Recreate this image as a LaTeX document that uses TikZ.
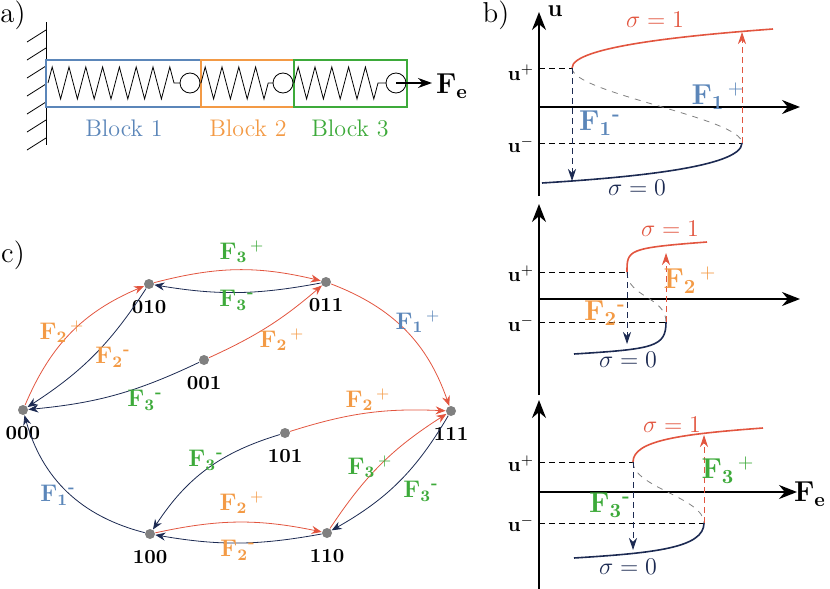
\documentclass[tikz,border=0pt]{standalone}
\usepackage{amsmath, amssymb}
\usepackage{xcolor}
\usetikzlibrary{arrows.meta,decorations.pathmorphing}
\definecolor{cred}{HTML}{E2553F}
\definecolor{cnavy}{HTML}{1C2A52}
\definecolor{corange}{HTML}{F39A45}
\definecolor{cgreen}{HTML}{3DAA3A}
\definecolor{cblue}{HTML}{5B86B9}
\newcommand{\Fl}[2]{$\mathbf{F}_{\mathbf{#1}}{}^{\,#2}$}
\newcommand{\Fm}[1]{$\mathbf{F}_{\mathbf{#1}}{}^{\textbf{-}}$}
% S-shaped hysteresis curve: xtop, xbot, yplus, yminus, xend, yend, xstart, ystart
\newcommand{\Scurve}[8]{%
  \draw[cred, thick] (#1,#3) .. controls (#1,#3-22) and (#5-80,#6+6) .. (#5,#6);
  \draw[gray, dashed] (#1,#3) .. controls (#1,#3+25) and (#2,#4-25) .. (#2,#4);
  \draw[cnavy, thick] (#2,#4) .. controls (#2,#4+25) and (#7+80,#8-5) .. (#7,#8);
}
\begin{document}
\begin{tikzpicture}[x=0.5pt,y=-0.5pt,
    axis/.style={thick, -{Stealth[length=9pt,width=7pt]}},
    guide/.style={densely dashed, thin},
    jump/.style={densely dashed, -{Stealth[length=6pt,width=4pt]}},
    state/.style={circle, fill=gray, minimum size=5pt, inner sep=0pt},
    trans/.style={-{Stealth[length=5pt,width=4pt]}},
    spring/.style={decorate, decoration={zigzag, segment length=8.4pt, amplitude=8pt}}]
    \useasboundingbox (0,0) rectangle (830,589);

    % a) springs
    \node (la) at (13,15) {\Large a)};
    \draw (46,22) -- (46,145);
    \foreach \y in {30,48,...,146} \draw (46,\y) -- (27,\y+12);
    \draw[cblue, thick] (46,60) rectangle (201,107);
    \draw[corange, thick] (201,60) rectangle (294,107);
    \draw[cgreen, thick] (294,60) rectangle (407,107);
    \draw[spring] (48,83) -- (180,83);
    \draw (190,83) circle (10);
    \draw[spring] (201,83) -- (273,83);
    \draw (283,83) circle (10);
    \draw[spring] (294,83) -- (386,83);
    \draw (396,83) circle (10);
    \draw[thick, -{Stealth[length=7pt,width=5pt]}] (396,83) -- (432,83);
    \node (fe1) at (452,86) {\Large$\mathbf{F}_{\mathbf{e}}$};
    \node[cblue] (b1) at (124,128) {\large Block 1};
    \node[corange] (b2) at (248,128) {\large Block 2};
    \node[cgreen] (b3) at (350,128) {\large Block 3};

    % b) top
    \node (lb) at (496,15) {\Large b)};
    \draw[axis] (539,196) -- (539,12);
    \node (u) at (555,11) {\large$\mathbf{u}$};
    \draw[axis] (539,107) -- (800,107);
    \draw[guide] (539,68) -- (572,68);
    \draw[guide] (539,143) -- (742,143);
    \Scurve{572}{742}{68}{143}{773}{29}{542}{183}
    \draw[jump, cnavy] (572,68) -- (572,181);
    \draw[jump, cred] (742,143) -- (742,32);
    \node (up1) at (521,73) {$\mathbf{u^+}$};
    \node (um1) at (521,145) {$\mathbf{u^-}$};
    \node[cred] (s11) at (655,20) {\large$\sigma = 1$};
    \node[cnavy] (s01) at (637,188) {\large$\sigma = 0$};
    \node[cblue] (f1p) at (718,96) {\Large\Fl{1}{+}};
    \node[cblue] (f1m) at (600,123) {\Large\Fm{1}};

    % b) middle
    \draw[axis] (539,395) -- (539,204);
    \draw[axis] (539,299) -- (800,299);
    \draw[guide] (539,272) -- (627,272);
    \draw[guide] (539,322) -- (666,322);
    \Scurve{627}{666}{272}{322}{707}{242}{574}{354}
    \draw[jump, cnavy] (627,272) -- (627,344);
    \draw[jump, cred] (666,322) -- (666,253);
    \node (up2) at (521,274) {$\mathbf{u^+}$};
    \node (um2) at (521,324) {$\mathbf{u^-}$};
    \node[cred] (s12) at (670,229) {\large$\sigma = 1$};
    \node[cnavy] (s02) at (628,360) {\large$\sigma = 0$};
    \node[corange] (f2p) at (690,280) {\Large\Fl{2}{+}};
    \node[corange] (f2m) at (605,313) {\Large\Fm{2}};

    % b) bottom
    \draw[axis] (539,589) -- (539,400);
    \draw[axis] (539,492) -- (797,492);
    \node (fe2) at (810,494) {\Large$\mathbf{F}_{\mathbf{e}}$};
    \draw[guide] (539,462) -- (633,462);
    \draw[guide] (539,523) -- (704,523);
    \Scurve{633}{704}{462}{523}{763}{428}{574}{558}
    \draw[jump, cnavy] (633,462) -- (633,550);
    \draw[jump, cred] (704,523) -- (704,435);
    \node (up3) at (521,464) {$\mathbf{u^+}$};
    \node (um3) at (521,524) {$\mathbf{u^-}$};
    \node[cred] (s13) at (672,425) {\large$\sigma = 1$};
    \node[cnavy] (s03) at (628,567) {\large$\sigma = 0$};
    \node[cgreen] (f3p) at (728,470) {\Large\Fl{3}{+}};
    \node[cgreen] (f3m) at (610,505) {\Large\Fm{3}};

    % c) state graph
    \node (lc) at (13,255) {\Large c)};
    \node[state, label={[yshift=-2pt]below:\textbf{000}}] (s000) at (23,410) {};
    \node[state, label={[yshift=-2pt]below:\textbf{010}}] (s010) at (149,284) {};
    \node[state, label={[yshift=-2pt]below:\textbf{011}}] (s011) at (326,282) {};
    \node[state, label={[yshift=-2pt]below:\textbf{001}}] (s001) at (204,360) {};
    \node[state, label={[yshift=-2pt]below:\textbf{111}}] (s111) at (451,411) {};
    \node[state, label={[yshift=-2pt]below:\textbf{101}}] (s101) at (285,433) {};
    \node[state, label={[yshift=-2pt]below:\textbf{100}}] (s100) at (150,534) {};
    \node[state, label={[yshift=-2pt]below:\textbf{110}}] (s110) at (327,533) {};

    \draw[trans, cred] (s000) to[bend left=22] (s010);
    \draw[trans, cnavy] (s010) to[bend left=12] (s000);
    \draw[trans, cred] (s010) to[bend left=14] (s011);
    \draw[trans, cnavy] (s011) to[bend left=10] (s010);
    \draw[trans, cred] (s001) to[bend right=8] (s011);
    \draw[trans, cnavy] (s001) to[bend left=10] (s000);
    \draw[trans, cred] (s011) to[bend left=25] (s111);
    \draw[trans, cred] (s101) to[bend left=10] (s111);
    \draw[trans, cnavy] (s101) to[bend right=20] (s100);
    \draw[trans, cred] (s110) to[bend left=12] (s111);
    \draw[trans, cnavy] (s111) to[bend left=15] (s110);
    \draw[trans, cred] (s100) to[bend left=12] (s110);
    \draw[trans, cnavy] (s110) to[bend left=10] (s100);
    \draw[trans, cnavy] (s100) to[bend left=30] (s000);

    \node[corange] (e1) at (62,332) {\large\Fl{2}{+}};
    \node[corange] (e2) at (113,357) {\large\Fm{2}};
    \node[cgreen] (e3) at (242,252) {\large\Fl{3}{+}};
    \node[cgreen] (e4) at (237,300) {\large\Fm{3}};
    \node[corange] (e5) at (282,340) {\large\Fl{2}{+}};
    \node[cgreen] (e6) at (145,400) {\large\Fm{3}};
    \node[cblue] (e7) at (418,322) {\large\Fl{1}{+}};
    \node[corange] (e8) at (368,400) {\large\Fl{2}{+}};
    \node[cgreen] (e9) at (206,460) {\large\Fm{3}};
    \node[cgreen] (e10) at (370,467) {\large\Fl{3}{+}};
    \node[cgreen] (e11) at (421,491) {\large\Fm{3}};
    \node[corange] (e12) at (242,503) {\large\Fl{2}{+}};
    \node[corange] (e13) at (238,550) {\large\Fm{2}};
    \node[cblue] (e14) at (58,495) {\large\Fm{1}};
\end{tikzpicture}
\end{document}
